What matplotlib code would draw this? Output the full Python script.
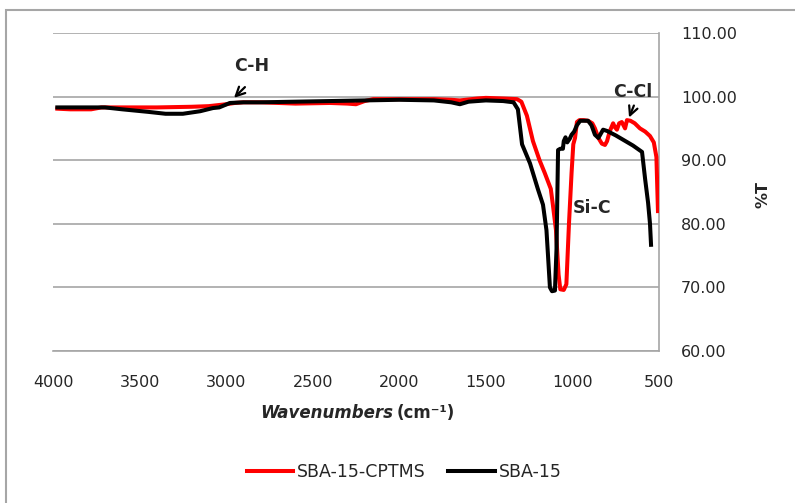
import matplotlib
matplotlib.use("Agg")
import matplotlib.pyplot as plt
from matplotlib.patches import Rectangle
from matplotlib.ticker import FormatStrFormatter

plt.rcParams['font.family'] = ['DejaVu Sans']

# SBA-15-CPTMS (red)
wn_cptms = [3975, 3900, 3780, 3720, 3600, 3400, 3200, 3100, 3000, 2950, 2900, 2800,
            2600, 2400, 2300, 2250, 2200, 2150, 2000, 1800, 1700, 1650, 1550, 1500,
            1400, 1320, 1295, 1263, 1228, 1190, 1160, 1125, 1113, 1095, 1080, 1070,
            1050, 1035, 1020, 1005, 995, 985, 974, 960, 935, 910, 885, 870, 850, 830,
            812, 800, 785, 765, 755, 743, 730, 715, 696, 685, 665, 640, 610, 580, 552,
            530, 515, 506]
t_cptms = [98.1, 98.0, 98.0, 98.3, 98.3, 98.3, 98.4, 98.5, 98.8, 99.0, 99.1, 99.1,
           98.9, 99.0, 98.9, 98.8, 99.3, 99.6, 99.6, 99.6, 99.5, 99.4, 99.7, 99.8,
           99.7, 99.6, 99.2, 97.0, 93.0, 90.0, 88.0, 85.5, 83.0, 79.0, 72.0, 69.7,
           69.6, 70.5, 80.0, 88.0, 92.5, 93.5, 96.0, 96.3, 96.3, 96.2, 95.8, 95.0,
           93.5, 92.6, 92.4, 93.0, 94.5, 95.8, 95.2, 94.8, 95.8, 96.0, 95.0, 96.3,
           96.2, 95.8, 95.0, 94.5, 93.8, 92.8, 90.5, 82.0]

# SBA-15 (black)
wn_sba = [3975, 3900, 3800, 3700, 3600, 3450, 3350, 3250, 3150, 3076, 3040, 2978,
          2900, 2800, 2600, 2400, 2200, 2000, 1800, 1700, 1650, 1600, 1500, 1400,
          1340, 1315, 1291, 1245, 1200, 1170, 1150, 1141, 1130, 1118, 1101, 1092,
          1083, 1070, 1055, 1050, 1040, 1030, 1015, 1005, 990, 974, 955, 939, 910,
          890, 870, 850, 823, 800, 750, 700, 650, 598, 580, 563, 552, 546]
t_sba = [98.3, 98.3, 98.3, 98.3, 98.0, 97.6, 97.3, 97.3, 97.7, 98.2, 98.3, 99.0,
         99.1, 99.1, 99.2, 99.3, 99.4, 99.5, 99.4, 99.1, 98.8, 99.2, 99.4, 99.3,
         99.1, 98.0, 92.5, 89.5, 85.5, 83.0, 79.0, 75.0, 70.0, 69.4, 69.5, 76.0,
         91.6, 91.8, 91.8, 93.0, 93.6, 92.8, 93.4, 94.0, 94.5, 95.5, 96.2, 96.2,
         96.2, 95.5, 94.0, 93.5, 94.8, 94.6, 93.9, 93.1, 92.3, 91.3, 87.0, 83.3,
         80.0, 76.7]

yticks = [60, 70, 80, 90, 100, 110]
xticks = [4000, 3500, 3000, 2500, 2000, 1500, 1000, 500]

fig = plt.figure(figsize=(7.95, 5.03), dpi=100)
ax = fig.add_axes([53 / 795, 1 - 351 / 503, 606 / 795, 318 / 503])

grid_c = '#a6a6a6'
txt_c = '#262626'
ax.plot(wn_cptms, t_cptms, color='#ff0000', lw=2.9, label='SBA-15-CPTMS', zorder=3)
ax.plot(wn_sba, t_sba, color='black', lw=2.9, label='SBA-15', zorder=4)

ax.set_xlim(4000, 500)
ax.set_ylim(60, 110)
ax.set_xticks(xticks)
ax.set_yticks(yticks)
ax.yaxis.tick_right()
ax.yaxis.set_major_formatter(FormatStrFormatter('%.2f'))
ax.tick_params(axis='both', length=0, labelsize=11.5, colors=txt_c)
ax.tick_params(axis='x', pad=17)
ax.tick_params(axis='y', pad=16)
for lab in ax.get_yticklabels():
    lab.set_horizontalalignment('left')
ax.grid(axis='y', color=grid_c, lw=1.2)
ax.set_axisbelow(True)
for s in ['left', 'top']:
    ax.spines[s].set_visible(False)
ax.spines['right'].set_color(grid_c)
ax.spines['bottom'].set_color(grid_c)
ax.spines['right'].set_linewidth(1.2)
ax.spines['bottom'].set_linewidth(1.2)

# annotations
arrow = dict(arrowstyle='->', color='black', lw=1.6, mutation_scale=16)
ax.annotate('', xy=(2966, 99.5), xytext=(2880, 101.8), arrowprops=arrow)
ax.text(2851, 104.8, 'C-H', ha='center', va='center', fontsize=12.5, fontweight='bold', color=txt_c)
ax.annotate('', xy=(679, 96.3), xytext=(639, 99.0), arrowprops=arrow)
ax.text(650, 100.7, 'C-Cl', ha='center', va='center', fontsize=12.5, fontweight='bold',
        color=txt_c, clip_on=False)
ax.text(887, 82.5, 'Si-C', ha='center', va='center', fontsize=12.5, fontweight='bold', color=txt_c)

# axis titles
fig.text(393 / 795, 1 - 413 / 503, 'Wavenumbers', ha='right', va='center', fontsize=12,
         fontweight='bold', style='italic', color=txt_c)
fig.text(397 / 795, 1 - 413 / 503, '(cm\u207b\u00b9)', ha='left', va='center', fontsize=12,
         fontweight='bold', color=txt_c)
fig.text(763 / 795, 1 - 195 / 503, '%T', ha='center', va='center', rotation=90,
         fontsize=11.5, fontweight='bold', color=txt_c)

leg = fig.legend(loc='center', bbox_to_anchor=(404 / 795, 1 - 472 / 503), ncol=2, frameon=False,
                 fontsize=12.5, handlelength=2.7, handletextpad=0.2, columnspacing=1.3)
for t in leg.get_texts():
    t.set_color(txt_c)

fig.patches.append(Rectangle((6 / 795, -0.1), 1.0, 1 - 10 / 503 + 0.1, transform=fig.transFigure,
                             fill=False, edgecolor=grid_c, lw=1.5))

fig.savefig('out.png', dpi=100)
